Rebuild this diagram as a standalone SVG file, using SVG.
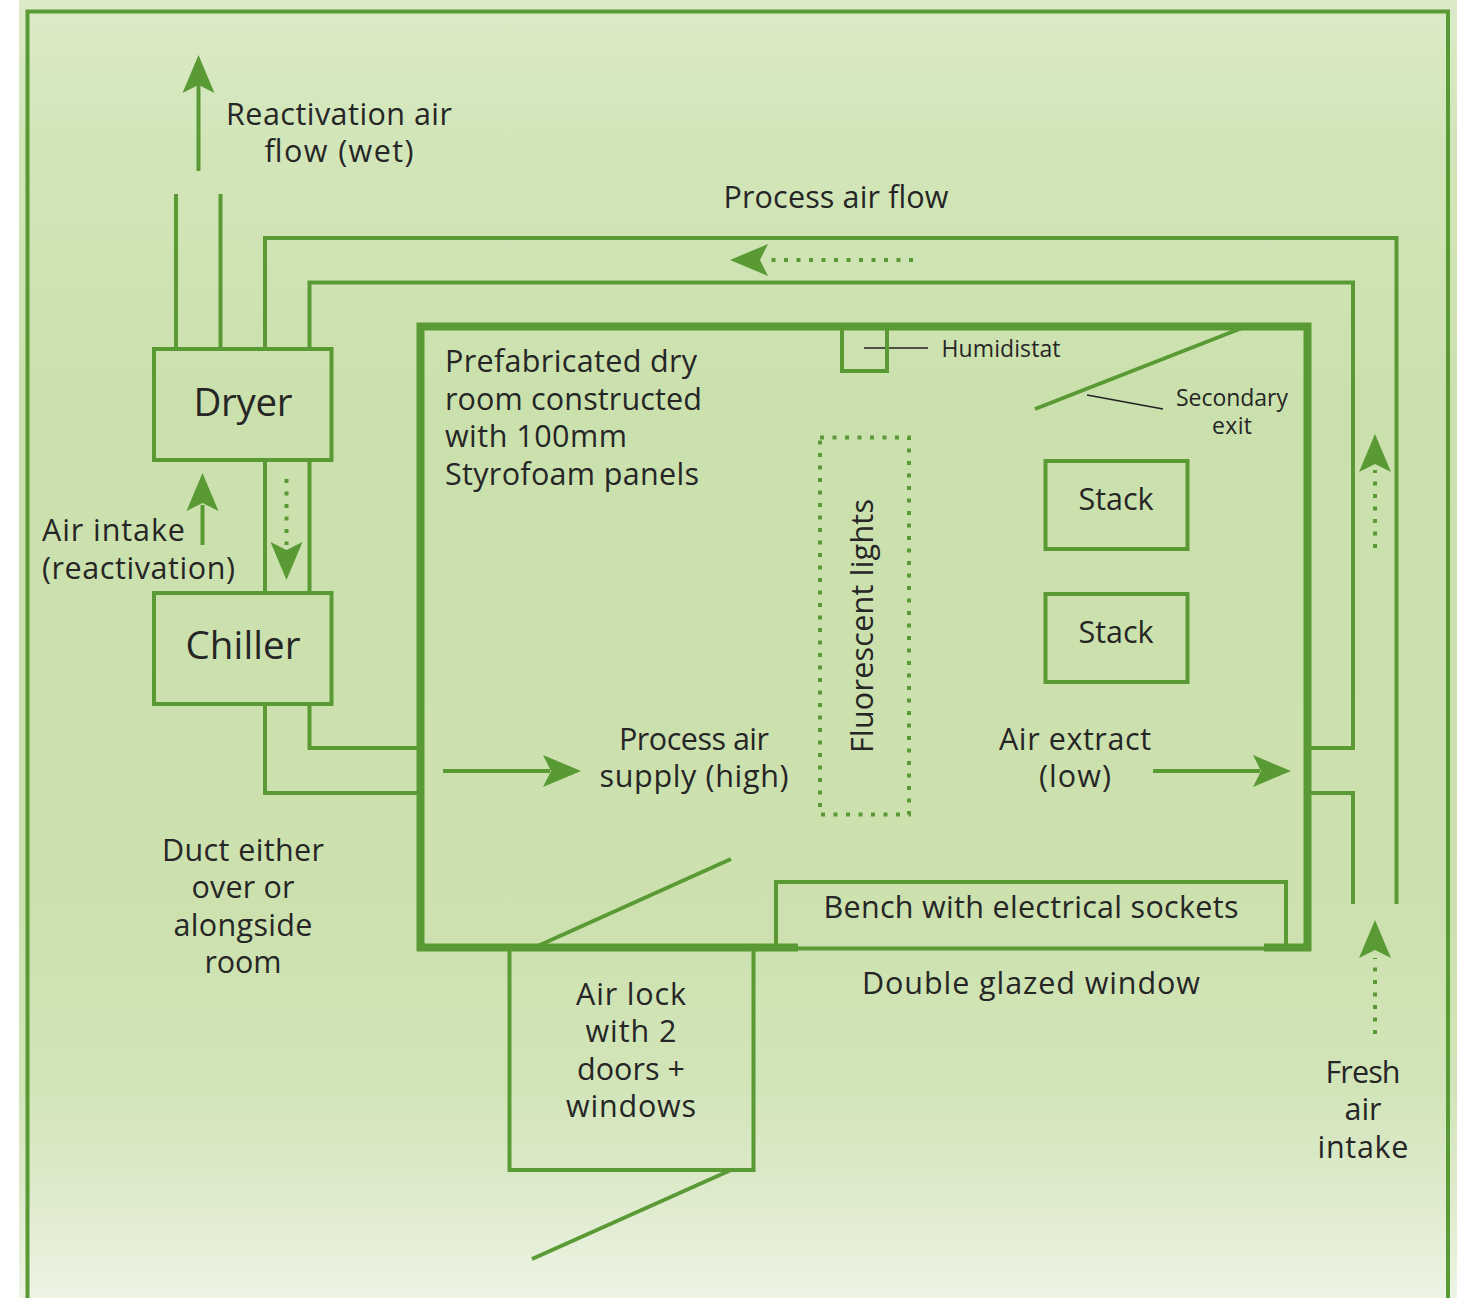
<svg xmlns="http://www.w3.org/2000/svg" width="1462" height="1298" viewBox="0 0 1462 1298">
<style>
.l{fill:none;stroke:#5a9a35;stroke-width:4}
.t{stroke-width:8}
.d{stroke-dasharray:4 8.5;stroke-width:4}
.n{fill:none;stroke:#222;stroke-width:1.6}
text{font-family:"Open Sans","Noto Sans",sans-serif;font-size:30.5px;fill:#262626;text-anchor:middle}
.s{font-size:23px}
.b{font-size:38.5px}
.h{fill:#5a9a35}
.a{text-anchor:start}
</style>
<defs>
<linearGradient id="bg" x1="0" y1="0" x2="0" y2="1">
<stop offset="0" stop-color="#dcebc8"/><stop offset="0.1" stop-color="#d3e6ba"/><stop offset="0.3" stop-color="#cbe1ad"/><stop offset="0.7" stop-color="#cce1ae"/><stop offset="0.84" stop-color="#d2e5b9"/><stop offset="0.93" stop-color="#e0ebcf"/><stop offset="1" stop-color="#eef4e4"/>
</linearGradient>
<path id="ah" class="h" d="M0 0L-16 -38L0 -30L16 -38Z"/>
</defs>
<rect width="1462" height="1298" fill="#fff"/>
<rect x="19" y="0" width="1438" height="1298" fill="url(#bg)"/>
<path class="l" d="M27.500 1298V11.500H1448V1298"/>
<g id="connectors">
<path class="l" d="M176 348V194M220.500 348V194"/>
<path class="l" d="M198.500 171V85"/>
<use href="#ah" transform="translate(198.500 55) rotate(180)"/>
<path class="l" d="M265 348V238H1396.500V904"/>
<path class="l" d="M309.500 348V282.500H1353V748H1310"/>
<path class="l" d="M1310 793H1353V904"/>
<path class="l d" d="M913 260H768"/>
<use href="#ah" transform="translate(730 260) rotate(90)"/>
<path class="l" d="M265 460V593M309.500 460V593"/>
<path class="l d" d="M286.500 479V545"/>
<use href="#ah" transform="translate(286.500 580)"/>
<path class="l" d="M202.500 545V505"/>
<use href="#ah" transform="translate(202.500 473) rotate(180)"/>
<path class="l" d="M309.500 704V748H420M265 704V793H420"/>
<path class="l" d="M443 771H550"/>
<use href="#ah" transform="translate(581 771) rotate(-90)"/>
<path class="l" d="M1153 771H1260"/>
<use href="#ah" transform="translate(1291 771) rotate(-90)"/>
<path class="l d" d="M1375 548V470"/>
<use href="#ah" transform="translate(1375 434) rotate(180)"/>
<path class="l d" d="M1375 1034V958"/>
<use href="#ah" transform="translate(1375 920) rotate(180)"/>
<path class="l" d="M1035 409L1242 328"/>
<path class="l" d="M531 949L731 859"/>
<path class="l" d="M731 1170L532 1259"/>
<path class="n" d="M864 348H928M1087 395L1163 409"/>
</g>
<g id="room"><path class="l t" d="M798 947.500H420.500V326.500H1307.500V947.500H1264"/></g>
<g id="dryer"><rect class="l" x="154" y="349" width="177.500" height="111"/><text class="b" x="243" y="416" textLength="99">Dryer</text></g>
<g id="chiller"><rect class="l" x="154" y="593" width="177.500" height="111"/><text class="b" x="243" y="659" textLength="115">Chiller</text></g>
<g id="humidistat"><path class="l" d="M842 330V371H887V330"/><text class="s" x="1001" y="357" textLength="119">Humidistat</text></g>
<g id="stack1"><rect class="l" x="1045.500" y="461" width="142" height="88"/><text x="1116" y="510" textLength="75">Stack</text></g>
<g id="stack2"><rect class="l" x="1045.500" y="594" width="142" height="88"/><text x="1116" y="643" textLength="75">Stack</text></g>
<g id="lights"><rect class="l d" x="820" y="437.500" width="89" height="377"/><text transform="translate(873 626) rotate(-90)" textLength="254">Fluorescent lights</text></g>
<g id="bench"><path class="l" d="M776 947V882H1286V947"/><path class="l" d="M798 948.500H1264"/><text x="1031" y="918" textLength="415">Bench with electrical sockets</text></g>
<g id="airlock"><path class="l" d="M509.500 950V1170H753.500V950"/><text x="631" y="1005" textLength="110">Air lock</text><text x="631" y="1042" textLength="91">with 2</text><text x="631" y="1080" textLength="108">doors +</text><text x="631" y="1117" textLength="130">windows</text></g>
<g id="labels">
<text x="339" y="125" textLength="226">Reactivation air</text><text x="339" y="162" textLength="149">flow (wet)</text>
<text x="836" y="208" textLength="225">Process air flow</text>
<text class="s" x="1232" y="406" textLength="112">Secondary</text><text class="s" x="1232" y="434" textLength="40">exit</text>
<text class="a" x="445" y="372" textLength="252">Prefabricated dry</text>
<text class="a" x="445" y="410" textLength="257">room constructed</text>
<text class="a" x="445" y="447" textLength="182">with 100mm</text>
<text class="a" x="445" y="485" textLength="254">Styrofoam panels</text>
<text class="a" x="42" y="541" textLength="143">Air intake</text>
<text class="a" x="42" y="579" textLength="193">(reactivation)</text>
<text x="694" y="750" textLength="150">Process air</text><text x="694" y="787" textLength="189">supply (high)</text>
<text x="1075" y="750" textLength="152">Air extract</text><text x="1075" y="787" textLength="72">(low)</text>
<text x="243" y="861" textLength="162">Duct either</text><text x="243" y="898" textLength="103">over or</text><text x="243" y="936" textLength="139">alongside</text><text x="243" y="973" textLength="77">room</text>
<text x="1031" y="994" textLength="338">Double glazed window</text>
<text x="1363" y="1083" textLength="75">Fresh</text><text x="1363" y="1120" textLength="37">air</text><text x="1363" y="1158" textLength="91">intake</text>
</g>
</svg>
